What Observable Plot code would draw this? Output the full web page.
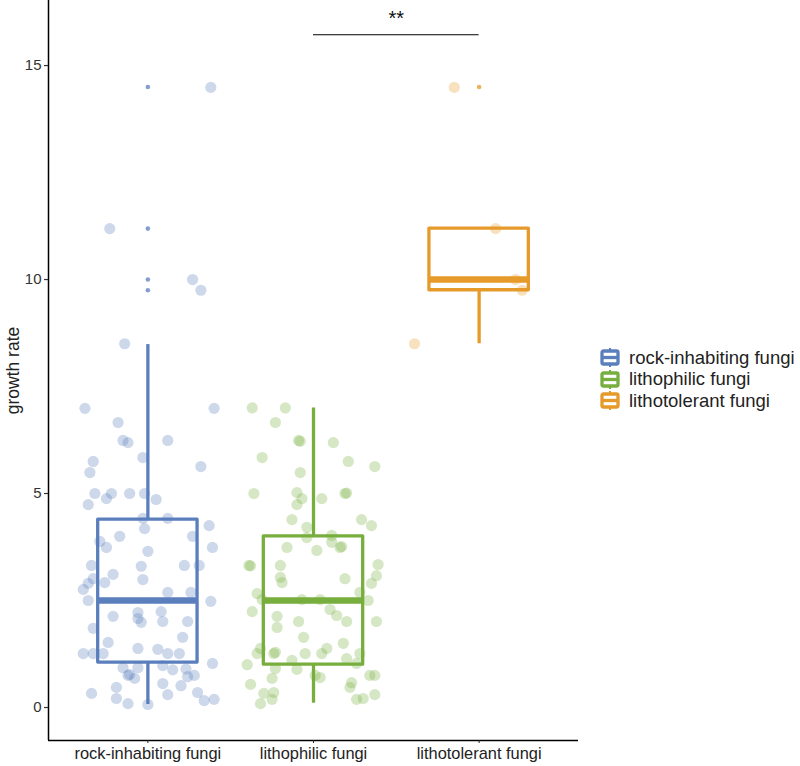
<!DOCTYPE html>
<html>
<head>
<meta charset="utf-8">
<script src="https://cdn.jsdelivr.net/npm/d3@7"></script>
<script src="https://cdn.jsdelivr.net/npm/@observablehq/plot@0.6"></script>
<style>
  html, body { margin: 0; padding: 0; background: #fff; }
  #wrap { position: relative; width: 800px; height: 766px; font-family: "Liberation Sans", Arial, sans-serif; }
  #legend { position: absolute; left: 600px; top: 347px; }
  .row { display: flex; align-items: center; height: 21.5px; }
  .row svg { margin-right: 9px; }
  .row span { font-size: 18.5px; color: #222; white-space: nowrap; }
</style>
</head>
<body>
<div id="wrap"><div id="chart"></div><div id="legend"></div></div>
<script>
// ---- data ----
const categories = ["rock-inhabiting fungi", "lithophilic fungi", "lithotolerant fungi"];
const colors = ["#5b7fbd", "#77ae3e", "#e69a2a"];

// box statistics per category
const boxQ1     = [1.05, 1.0, 9.75];
const boxMedian = [2.5, 2.5, 10.0];
const boxQ3     = [4.39, 4.0, 11.19];
const whiskerLo = [0.07, 0.1, 8.5];
const whiskerHi = [8.48, 7.0, 11.19];

// boxplot outliers
const outlierGroup = [0, 0, 0, 0, 2];
const outlierValue = [14.5, 11.19, 10.0, 9.75, 14.5];

// jittered observations (jitter in category units)
const rockJitter = [0.38,-0.23,0.27,0.32,-0.14,-0.38,0.40,-0.18,-0.15,-0.12,
  0.12,-0.03,-0.33,-0.35,0.32,-0.32,-0.22,-0.25,-0.11,-0.02,
  0.05,-0.36,-0.03,0.12,-0.02,0.37,-0.17,0.27,-0.29,-0.25,
  0.39,0.00,-0.34,-0.04,0.22,0.31,-0.21,-0.33,-0.36,-0.39,
  -0.26,-0.03,0.12,0.26,-0.36,0.38,-0.21,-0.06,-0.06,-0.04,
  0.08,0.09,0.24,-0.33,0.21,-0.24,-0.39,-0.33,-0.27,-0.06,
  0.06,0.12,0.19,0.39,-0.15,-0.11,-0.08,-0.06,-0.12,0.09,
  0.15,0.23,0.24,0.28,0.20,0.09,-0.34,-0.19,-0.19,-0.12,
  0.00,0.12,0.30,0.34,0.40];
const rockValue = [14.49,11.19,10.0,9.75,8.5,6.99,6.99,6.66,6.24,6.19,
  6.24,5.84,5.75,5.49,5.63,5.0,5.0,4.88,5.0,5.0,
  4.86,4.74,4.42,4.42,4.18,4.25,4.0,4.0,3.88,3.74,
  3.74,3.65,3.32,3.3,3.32,3.32,3.11,3.01,2.9,2.76,
  2.92,2.99,2.69,2.69,2.5,2.48,2.13,2.22,2.08,1.99,
  2.24,2.01,2.01,1.85,1.64,1.52,1.26,1.26,1.26,1.38,
  1.36,1.26,1.26,1.03,0.93,0.77,0.68,0.93,0.75,0.98,
  0.88,0.9,0.72,0.75,0.51,0.56,0.33,0.47,0.21,0.09,
  0.07,0.3,0.35,0.16,0.19];

const lithoJitter = [-0.37,-0.17,-0.23,-0.09,-0.08,0.12,-0.31,0.21,0.37,-0.08,
  -0.36,-0.10,-0.07,-0.10,0.05,0.19,0.20,-0.13,0.29,0.35,
  -0.04,-0.04,0.11,0.11,0.16,0.17,-0.16,0.02,-0.39,-0.38,
  -0.20,-0.20,-0.19,0.19,0.39,0.38,0.35,-0.34,-0.31,0.28,
  0.33,-0.07,0.04,-0.37,-0.22,-0.22,-0.09,0.10,0.14,0.20,
  0.38,-0.06,0.18,-0.32,-0.34,-0.24,-0.23,-0.05,0.05,0.08,
  0.28,0.20,-0.40,-0.13,-0.10,-0.23,0.01,0.04,0.26,0.34,
  0.37,0.23,0.22,-0.25,-0.38,-0.30,-0.24,-0.25,-0.32,0.37,
  0.26,0.30];
const lithoValue = [7.0,7.0,6.66,6.24,6.22,6.19,5.84,5.75,5.63,5.49,
  5.0,5.02,4.88,4.74,4.88,5.0,5.01,4.39,4.39,4.25,
  4.21,3.97,4.02,3.86,3.74,3.76,3.74,3.67,3.32,3.31,
  3.32,3.04,2.92,3.01,3.34,3.08,2.9,2.66,2.52,2.69,
  2.5,2.52,2.52,2.24,2.13,1.87,2.01,2.29,2.15,2.01,
  2.01,1.64,1.5,1.38,1.26,1.26,1.29,1.26,1.26,1.38,
  1.26,1.14,1.0,1.1,0.89,0.91,0.75,0.7,1.03,0.75,
  0.75,0.58,0.47,0.68,0.54,0.33,0.35,0.19,0.09,0.3,
  0.19,0.21];

const tolerJitter = [-0.15, 0.10, 0.22, 0.26, -0.39];
const tolerValue  = [14.49, 11.19, 10.0, 9.75, 8.5];

// significance bracket (between category indices)
const sigFrom = [1], sigTo = [2], sigY = [15.72], sigLabel = ["**"];

const yLabel = "growth rate";
const yTicks = [0, 5, 10, 15];
const yDomain = [-0.771, 16.52];
const xDomain = [0.4, 3.6];

// ---- build tables ----
const boxes = categories.map((c, i) => ({
  i, cat: c, q1: boxQ1[i], med: boxMedian[i], q3: boxQ3[i], lo: whiskerLo[i], hi: whiskerHi[i]
}));
const points = [];
[[rockJitter, rockValue], [lithoJitter, lithoValue], [tolerJitter, tolerValue]].forEach(([js, vs], g) => {
  vs.forEach((v, k) => points.push({ cat: categories[g], x: g + 1 + js[k], v }));
});
const outliers = outlierValue.map((v, k) => ({ cat: categories[outlierGroup[k]], x: outlierGroup[k] + 1, v }));
const sig = sigY.map((y, k) => ({ x1: sigFrom[k] + 1, x2: sigTo[k] + 1, y, label: sigLabel[k] }));

const halfW = 0.3;
const lw = 3.3;

const chart = Plot.plot({
  width: 800,
  height: 766,
  marginLeft: 48,
  marginRight: 222,
  marginTop: 0,
  marginBottom: 26,
  x: { type: "linear", domain: xDomain },
  y: { domain: yDomain },
  color: { domain: categories, range: colors },
  style: { fontFamily: "'Liberation Sans', Arial, sans-serif", background: "white", overflow: "visible" },
  marks: [
    // boxes
    Plot.ruleX(boxes, { x: d => d.i + 1, y1: "q3", y2: "hi", stroke: "cat", strokeWidth: lw }),
    Plot.ruleX(boxes, { x: d => d.i + 1, y1: "lo", y2: "q1", stroke: "cat", strokeWidth: lw }),
    Plot.rect(boxes, { x1: d => d.i + 1 - halfW, x2: d => d.i + 1 + halfW, y1: "q1", y2: "q3",
      stroke: "cat", fill: "white", strokeWidth: lw, strokeLinejoin: "round" }),
    Plot.ruleY(boxes, { y: "med", x1: d => d.i + 1 - halfW, x2: d => d.i + 1 + halfW, stroke: "cat", strokeWidth: lw * 2 }),
    Plot.dot(outliers, { x: "x", y: "v", r: 2.3, fill: "cat", fillOpacity: 0.75 }),
    // jittered points
    Plot.dot(points, { x: "x", y: "v", r: 5.6, fill: "cat", fillOpacity: 0.3 }),
    // significance bracket
    Plot.ruleY(sig, { y: "y", x1: "x1", x2: "x2", stroke: "black", strokeWidth: 1.2 }),
    Plot.text(sig, { x: d => (d.x1 + d.x2) / 2, y: "y", text: "label", dy: -16, fontSize: 20, fill: "#111" }),
    // axis lines
    Plot.ruleX([xDomain[0]], { stroke: "black", strokeWidth: 1.5 }),
    Plot.ruleY([yDomain[0]], { stroke: "black", strokeWidth: 1.5 }),
    // axes
    Plot.axisY(yTicks, { tickSize: 4, tickPadding: 3, fontSize: 15, color: "#333", label: null, strokeWidth: 1.2 }),
    Plot.axisX([1, 2, 3], { tickFormat: d => categories[d - 1], tickSize: 3, tickPadding: 4, fontSize: 16.4,
      color: "#222", label: null }),
    Plot.text([yLabel], { frameAnchor: "left", textAnchor: "middle", rotate: -90, dx: -35, fontSize: 17.5, fill: "#222" })
  ]
});
document.getElementById("chart").appendChild(chart);

// legend (boxplot keys)
const legend = document.getElementById("legend");
categories.forEach((c, i) => {
  const row = document.createElement("div");
  row.className = "row";
  const col = colors[i];
  row.innerHTML = `<svg width="20" height="19" viewBox="0 0 20 19">
      <line x1="10" y1="0" x2="10" y2="19" stroke="${col}" stroke-width="2"/>
      <rect x="2" y="3" width="16" height="13" rx="1.5" fill="white" stroke="${col}" stroke-width="3.3"/>
      <line x1="2" y1="9.5" x2="18" y2="9.5" stroke="${col}" stroke-width="3.3"/>
    </svg><span>${c}</span>`;
  legend.appendChild(row);
});
</script>
</body>
</html>
